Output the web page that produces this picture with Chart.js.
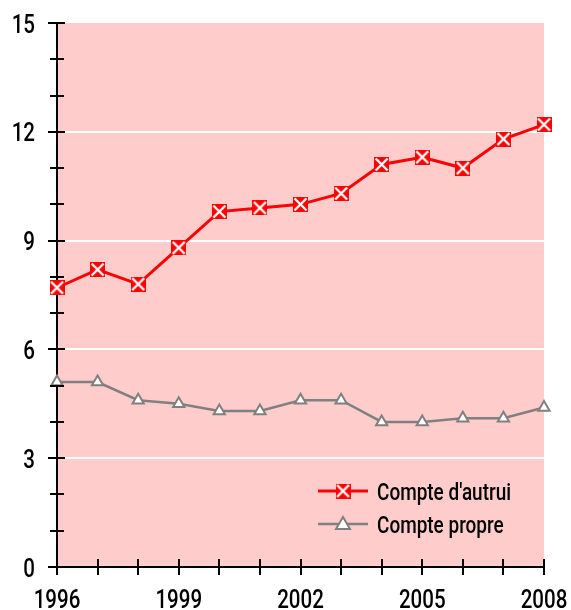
<!DOCTYPE html>
<html>
<head>
<meta charset="utf-8">
<script src="https://cdn.jsdelivr.net/npm/chart.js@4"></script>
<style>
  html, body { margin: 0; padding: 0; background: #fff; }
  #wrap { width: 571px; height: 610px; }
</style>
</head>
<body>
<div id="wrap"><canvas id="chart" width="571" height="610"></canvas></div>
<script>
// donnees
const years = [1996, 1997, 1998, 1999, 2000, 2001, 2002, 2003, 2004, 2005, 2006, 2007, 2008];
const autrui = [7.7, 8.2, 7.8, 8.8, 9.8, 9.9, 10.0, 10.3, 11.1, 11.3, 11.0, 11.8, 12.2];
const propre = [5.1, 5.1, 4.6, 4.5, 4.3, 4.3, 4.6, 4.6, 4.0, 4.0, 4.1, 4.1, 4.4];
const seriesNames = ["Compte d'autrui", "Compte propre"];
const yTicks = [0, 3, 6, 9, 12, 15];
const xTicks = [1996, 1999, 2002, 2005, 2008];

const FONT = "Roboto, 'DejaVu Sans', sans-serif";
const SQUEEZE = 0.79; // police etroite simulee
const RED = "#ff0000";
const GREY = "#808080";
const PINK = "#ffcccc";

// marqueur carre rouge avec croix blanche
function crossMarker() {
  const c = document.createElement("canvas");
  c.width = 15; c.height = 15;
  const g = c.getContext("2d");
  g.fillStyle = RED;
  g.fillRect(0, 0, 15, 15);
  g.strokeStyle = "#fff";
  g.lineWidth = 2.4;
  g.beginPath();
  g.moveTo(1.5, 1.5); g.lineTo(13.5, 13.5);
  g.moveTo(13.5, 1.5); g.lineTo(1.5, 13.5);
  g.stroke();
  return c;
}
const redMarker = crossMarker();

// texte compresse horizontalement
function narrowText(ctx, text, x, y, align) {
  const w = ctx.measureText(text).width * SQUEEZE;
  let left = x;
  if (align === "right") left = x - w;
  if (align === "center") left = x - w / 2;
  ctx.save();
  ctx.translate(left, y);
  ctx.scale(SQUEEZE, 1);
  ctx.textAlign = "left";
  ctx.fillText(text, 0, 0);
  ctx.restore();
}

/* =========================
   FOND ROSE
========================= */
const plotBackground = {
  id: "plotBackground",
  beforeDraw(chart) {
    const { ctx, chartArea: a } = chart;
    ctx.save();
    ctx.fillStyle = PINK;
    ctx.fillRect(a.left, a.top, a.right - a.left, a.bottom - a.top);
    ctx.restore();
  }
};

/* =========================
   GRADUATIONS + ETIQUETTES
========================= */
const axisMarks = {
  id: "axisMarks",
  afterDatasetsDraw(chart) {
    const { ctx, scales: { x, y } } = chart;
    ctx.save();
    ctx.strokeStyle = "#000";
    ctx.lineWidth = 2;
    ctx.beginPath();
    for (let v = 0; v <= 15; v++) {
      const py = Math.round(y.getPixelForValue(v));
      const major = v % 3 === 0;
      ctx.moveTo(x.left - (major ? 9 : 7), py);
      ctx.lineTo(x.left + (major ? 8 : 7), py);
    }
    years.forEach(v => {
      const px = Math.round(x.getPixelForValue(v));
      ctx.moveTo(px, y.bottom - 8);
      ctx.lineTo(px, y.bottom + 8);
    });
    ctx.stroke();

    ctx.fillStyle = "#000";
    ctx.font = "500 26px " + FONT;
    ctx.textBaseline = "alphabetic";
    yTicks.forEach(v => {
      narrowText(ctx, String(v), x.left - 22, y.getPixelForValue(v) + 9.5, "right");
    });
    xTicks.forEach(v => {
      narrowText(ctx, String(v), x.getPixelForValue(v), y.bottom + 41, "center");
    });
    ctx.restore();
  }
};

/* =========================
   LEGENDE DANS LE GRAPHIQUE
========================= */
const innerLegend = {
  id: "innerLegend",
  afterDatasetsDraw(chart) {
    const { ctx, chartArea: a } = chart;
    const x0 = a.left + 261;
    const rows = [a.bottom - 76, a.bottom - 43];
    ctx.save();
    chart.data.datasets.forEach((ds, i) => {
      const yy = rows[i];
      ctx.strokeStyle = ds.borderColor;
      ctx.lineWidth = ds.borderWidth;
      ctx.beginPath();
      ctx.moveTo(x0, yy);
      ctx.lineTo(x0 + 50, yy);
      ctx.stroke();
      if (i === 0) {
        ctx.drawImage(redMarker, x0 + 25 - 7.5, yy - 7.5);
      } else {
        ctx.fillStyle = "#fff";
        ctx.strokeStyle = GREY;
        ctx.lineWidth = 2;
        ctx.beginPath();
        ctx.moveTo(x0 + 25, yy - 7);
        ctx.lineTo(x0 + 32, yy + 5);
        ctx.lineTo(x0 + 18, yy + 5);
        ctx.closePath();
        ctx.fill();
        ctx.stroke();
      }
      ctx.fillStyle = "#000";
      ctx.font = "500 24px " + FONT;
      ctx.textBaseline = "alphabetic";
      narrowText(ctx, ds.label, x0 + 59, yy + 9, "left");
    });
    ctx.restore();
  }
};

function initChart() {
  const ctx = document.getElementById("chart");

  new Chart(ctx, {
    type: "line",
    data: {
      datasets: [
        {
          label: seriesNames[0],
          data: years.map((yr, i) => ({ x: yr, y: autrui[i] })),
          borderColor: RED,
          backgroundColor: RED,
          borderWidth: 3,
          pointStyle: redMarker,
          pointRadius: 7.5,
          clip: false
        },
        {
          label: seriesNames[1],
          data: years.map((yr, i) => ({ x: yr, y: propre[i] })),
          borderColor: GREY,
          backgroundColor: "#fff",
          borderWidth: 2.5,
          pointStyle: "triangle",
          pointRadius: 6.5,
          pointBorderWidth: 2,
          clip: false
        }
      ]
    },
    options: {
      responsive: false,
      animation: false,
      layout: { padding: { top: 23, right: 27, left: 0, bottom: 0 } },
      plugins: {
        legend: { display: false },
        tooltip: { enabled: false }
      },
      scales: {
        x: {
          type: "linear",
          min: 1996,
          max: 2008,
          afterBuildTicks: axis => { axis.ticks = xTicks.map(v => ({ value: v })); },
          afterFit: axis => { axis.height = 43; },
          grid: { display: false, drawTicks: false },
          border: { color: "#000", width: 2 },
          ticks: { display: false }
        },
        y: {
          min: 0,
          max: 15,
          afterBuildTicks: axis => { axis.ticks = yTicks.map(v => ({ value: v })); },
          afterFit: axis => { axis.width = 57; },
          grid: {
            drawTicks: false,
            lineWidth: 2,
            color: c => (c.tick.value === 0 || c.tick.value === 15) ? "rgba(0,0,0,0)" : "#fff"
          },
          border: { color: "#000", width: 2 },
          ticks: { display: false }
        }
      }
    },
    plugins: [plotBackground, axisMarks, innerLegend]
  });
}

document.addEventListener("DOMContentLoaded", () => {
  initChart();
});
</script>
</body>
</html>
